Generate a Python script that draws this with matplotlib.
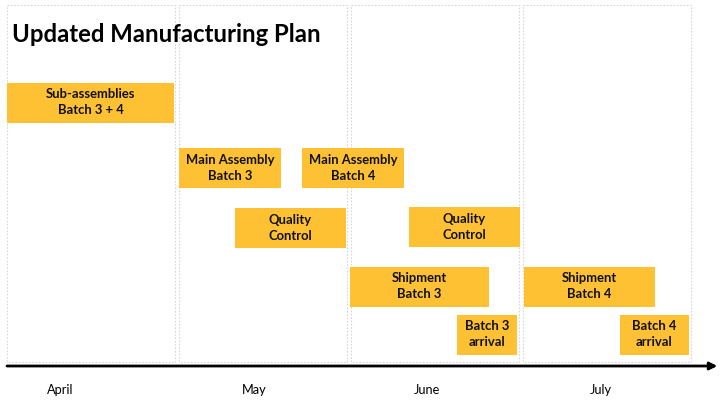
import matplotlib
matplotlib.use("Agg")
import matplotlib.pyplot as plt
from matplotlib.patches import Rectangle

# months (x in month units: 0 = start of April)
months = ["April", "May", "June", "July"]
month_label_x = [0.31, 1.44, 2.44, 3.45]

# tasks
tasks = ["Sub-assemblies\nBatch 3 + 4",
         "Main Assembly\nBatch 3",
         "Main Assembly\nBatch 4",
         "Quality\nControl",
         "Quality\nControl",
         "Shipment\nBatch 3",
         "Batch 3\narrival",
         "Shipment\nBatch 4",
         "Batch 4\narrival"]
start = [0.0, 1.0, 1.715, 1.326, 2.337, 1.994, 2.616, 3.006, 3.564]
end = [0.971, 1.593, 2.308, 1.971, 2.983, 2.802, 2.965, 3.767, 3.965]
lane = [102.5, 167.5, 167.5, 228, 227, 286.5, 334.5, 286.5, 334.5]
bar_h = 40

fig = plt.figure(figsize=(7.25, 4.13), dpi=100)
ax = fig.add_axes([0, 0, 1, 1])
ax.set_xlim(-7 / 172, 718 / 172)
ax.set_ylim(413, 0)
ax.axis("off")

font = ["Lato", "DejaVu Sans"]

# month frames
for i, m in enumerate(months):
    ax.add_patch(Rectangle((i, 5), 0.977, 357, fill=False, edgecolor="#d6d6d6",
                           lw=0.8, linestyle=(0, (1.5, 1.5))))
    ax.text(month_label_x[i], 390, m, ha="center", va="center", fontsize=9.2, family=font)

# bars
for t, s, e, y in zip(tasks, start, end, lane):
    ax.add_patch(Rectangle((s, y - bar_h / 2), e - s, bar_h, facecolor="#FEC134",
                           edgecolor="none"))
    ax.text((s + e) / 2, y, t, ha="center", va="center", fontsize=9.4,
            fontweight="bold", family=font, linespacing=1.4, color="#111111")

# time arrow
ax.annotate("", xy=(4.13, 366), xytext=(0, 366),
            arrowprops=dict(arrowstyle="-|>", lw=2, color="black", mutation_scale=11,
                            shrinkA=0, shrinkB=0))

ax.text(0.03, 35, "Updated Manufacturing Plan", ha="left", va="center",
        fontsize=17.2, fontweight="bold", family=font)

fig.savefig("out.png", dpi=100)
